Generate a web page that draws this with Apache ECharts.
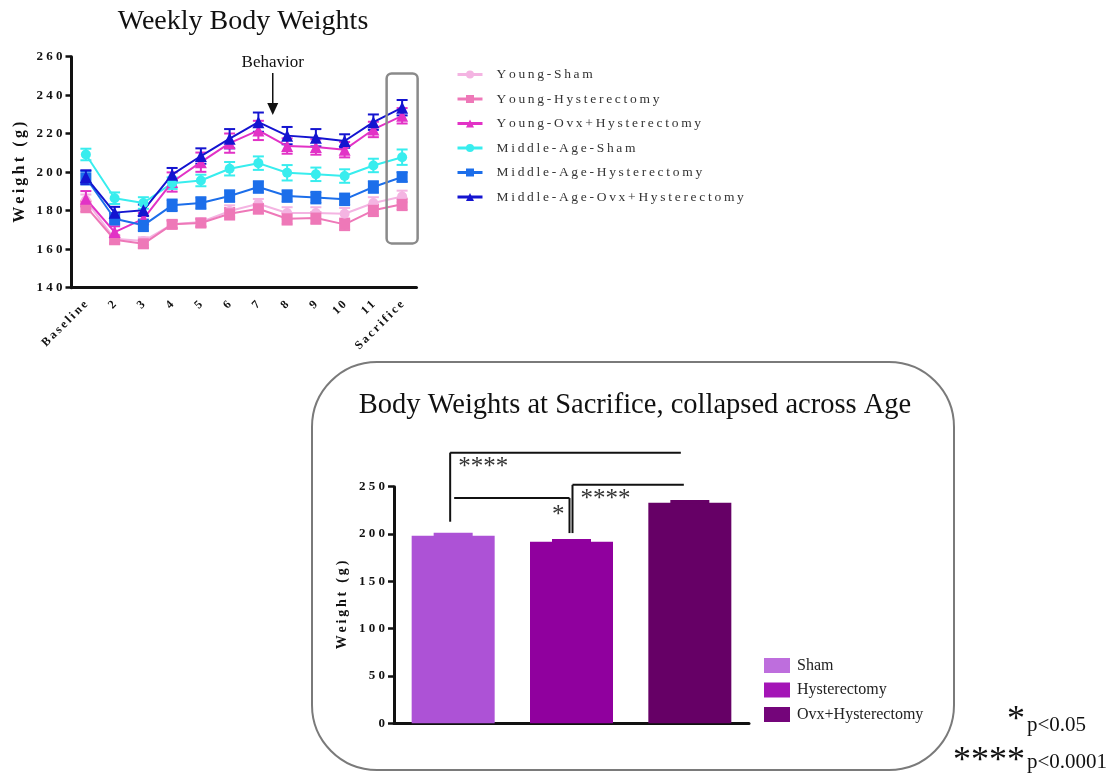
<!DOCTYPE html>
<html>
<head>
<meta charset="utf-8">
<title>Body Weights</title>
<script src="https://cdn.jsdelivr.net/npm/echarts@6/dist/echarts.min.js"></script>
<style>
  html, body { margin: 0; padding: 0; background: #ffffff; }
  #chart { width: 1117px; height: 773px; }
</style>
</head>
<body>
<div id="chart"></div>
<script>
// ---- Weekly body weights (mean and SEM, grams) ----
const weeks = ['Baseline', '2', '3', '4', '5', '6', '7', '8', '9', '10', '11', 'Sacrifice'];
const weightTicks = [140, 160, 180, 200, 220, 240, 260];

const groupNames = ['Young-Sham', 'Young-Hysterectomy', 'Young-Ovx+Hysterectomy',
                    'Middle-Age-Sham', 'Middle-Age-Hysterectomy', 'Middle-Age-Ovx+Hysterectomy'];

const youngSham     = [185.4, 165.4, 164.2, 172.9, 174.1, 179.8, 183.6, 178.8, 178.8, 178.4, 184.0, 187.4];
const youngHyst     = [182.2, 164.9, 162.8, 172.9, 173.6, 178.4, 181.0, 175.8, 176.2, 172.9, 180.2, 183.3];
const youngOvxHyst  = [186.2, 168.9, 175.8, 194.9, 205.2, 215.1, 221.7, 213.6, 213.1, 211.7, 222.2, 229.3];
const middleSham    = [209.2, 186.5, 184.0, 194.3, 195.7, 201.8, 204.7, 199.7, 198.9, 198.0, 203.5, 207.8];
const middleHyst    = [197.1, 175.8, 172.4, 182.8, 184.0, 187.6, 192.3, 187.6, 186.8, 185.9, 192.3, 197.5];
const middleOvxHyst = [197.5, 179.0, 180.2, 198.7, 208.4, 217.4, 226.0, 219.0, 217.9, 216.2, 226.0, 233.5];

const youngShamErr     = [3.0, 2.0, 2.0, 2.0, 2.0, 3.0, 2.5, 3.0, 3.0, 3.0, 3.0, 3.0];
const youngHystErr     = [3.0, 2.0, 2.0, 2.0, 2.0, 3.0, 2.5, 3.0, 3.0, 3.0, 3.0, 3.0];
const youngOvxHystErr  = [4.0, 3.0, 3.0, 5.0, 5.0, 5.0, 5.0, 4.0, 4.0, 4.0, 4.0, 4.0];
const middleShamErr    = [3.0, 3.0, 3.0, 3.0, 3.0, 3.5, 3.5, 4.0, 3.5, 3.5, 3.5, 4.0];
const middleHystErr    = [3.5, 3.0, 3.0, 3.0, 3.0, 3.0, 3.0, 3.0, 3.0, 3.0, 3.0, 2.5];
const middleOvxHystErr = [3.5, 3.0, 3.0, 3.5, 4.0, 5.0, 5.0, 4.5, 4.5, 3.5, 4.0, 4.0];

// ---- Body weights at sacrifice, collapsed across age ----
const treatments = ['Sham', 'Hysterectomy', 'Ovx+Hysterectomy'];
const sacrificeWeight = [198.2, 191.8, 233.0];
const sacrificeErr = [3.2, 2.9, 2.9];
const sacrificeTicks = [0, 50, 100, 150, 200, 250];

// Pairwise comparisons (category indices, bracket height and drop in grams)
const pairFrom  = [0, 0, 1];
const pairTo    = [2, 1, 2];
const pairLevel = [286, 238, 252];
const pairDrop  = [213, 201, 201];
const pairSide  = ['from', 'to', 'from'];
const pairStars = ['****', '*', '****'];

// ---- styling ----
const SERIF = "'Liberation Serif', 'Times New Roman', serif";
const groupColors = ['#F4B4E2', '#EE78B8', '#E232C6', '#38EDEE', '#1C6EEA', '#1414D0'];
const groupSymbols = ['circle', 'rect', 'triangle', 'circle', 'rect', 'triangle'];
const groupSymbolSize = [10, 11, 12, 10, 11, 12];
const barColors = ['#AD52D6', '#90009E', '#660066'];
const barLegendColors = ['#BE6EDD', '#A414B6', '#74057A'];

// letter-spaced text, as in the axis and legend typography
const spaced = s => String(s).split('').join('\u2009');
const spacedWide = s => String(s).split('').join('\u2005');

const groupMeans = [youngSham, youngHyst, youngOvxHyst, middleSham, middleHyst, middleOvxHyst];
const groupErrs  = [youngShamErr, youngHystErr, youngOvxHystErr, middleShamErr, middleHystErr, middleOvxHystErr];

function errorBarRenderer(color) {
  return function (params, api) {
    const i = api.value(0), m = api.value(1), e = api.value(2);
    const top = api.coord([i, m + e]);
    const bot = api.coord([i, m - e]);
    const cx = top[0], w = 5.5;
    const st = { stroke: color, lineWidth: 2 };
    return {
      type: 'group',
      children: [
        { type: 'line', shape: { x1: cx, y1: top[1], x2: cx, y2: bot[1] }, style: st },
        { type: 'line', shape: { x1: cx - w, y1: top[1], x2: cx + w, y2: top[1] }, style: st },
        { type: 'line', shape: { x1: cx - w, y1: bot[1], x2: cx + w, y2: bot[1] }, style: st }
      ]
    };
  };
}

const series = [];
groupNames.forEach((name, g) => {
  series.push({
    type: 'custom',
    name: name + ' SEM',
    xAxisIndex: 0, yAxisIndex: 0,
    renderItem: errorBarRenderer(groupColors[g]),
    encode: { x: 0, y: 1 },
    data: weeks.map((w, i) => [i, groupMeans[g][i], groupErrs[g][i]]),
    silent: true,
    z: 2
  });
  series.push({
    type: 'line',
    name: name,
    xAxisIndex: 0, yAxisIndex: 0,
    data: groupMeans[g],
    symbol: groupSymbols[g],
    symbolSize: groupSymbolSize[g],
    showAllSymbol: true,
    lineStyle: { color: groupColors[g], width: 2 },
    itemStyle: { color: groupColors[g] },
    emphasis: { disabled: true },
    z: 3
  });
});

treatments.forEach((name, k) => {
  series.push({
    type: 'bar',
    name: name,
    xAxisIndex: 1, yAxisIndex: 1,
    data: sacrificeWeight.map((v, j) => (j === k ? v : '-')),
    barWidth: 83,
    barGap: '-100%',
    itemStyle: { color: barColors[k] },
    emphasis: { disabled: true }
  });
});

// SEM caps on the bars, drawn in the bar colour
series.push({
  type: 'custom',
  name: 'Sacrifice SEM',
  xAxisIndex: 1, yAxisIndex: 1,
  encode: { x: 0, y: 1 },
  data: treatments.map((t, k) => [k, sacrificeWeight[k], sacrificeErr[k]]),
  renderItem: function (params, api) {
    const k = api.value(0), m = api.value(1), e = api.value(2);
    const p0 = api.coord([k, m]);
    const p1 = api.coord([k, m + e]);
    const w = 39;
    return {
      type: 'rect',
      shape: { x: p0[0] - w / 2, y: p1[1], width: w, height: p0[1] - p1[1] + 1 },
      style: { fill: barColors[k] }
    };
  },
  silent: true,
  z: 3
});

// significance brackets
series.push({
  type: 'custom',
  name: 'Comparisons',
  xAxisIndex: 1, yAxisIndex: 1,
  data: pairFrom.map((f, n) => [f, pairTo[n], pairLevel[n], pairDrop[n], n]),
  encode: { x: [0, 1], y: [2, 3] },
  clip: false,
  renderItem: function (params, api) {
    const n = api.value(4);
    const f = api.value(0), t = api.value(1), lvl = api.value(2), drop = api.value(3);
    const side = pairSide[n];
    const a = api.coord([f, lvl]);
    const b = api.coord([t, lvl]);
    const d = api.coord([f, drop]);
    let x1 = a[0], x2 = b[0];
    if (side === 'from') { x1 += (f === 0 ? -3 : 1); x2 -= (t - f > 1 ? 9 : 6); }
    else { x1 += 1; x2 -= 2; }
    const y = a[1];
    const yd = d[1];
    const st = { stroke: '#111', lineWidth: 2 };
    const dropX = side === 'from' ? x1 : x2;
    const lab = side === 'from'
      ? { x: x1 + 8, y: y + 15, align: 'left' }
      : { x: x2 - 5, y: y + 17, align: 'right' };
    return {
      type: 'group',
      children: [
        { type: 'line', shape: { x1: x1, y1: y, x2: x2, y2: y }, style: st },
        { type: 'line', shape: { x1: dropX, y1: y, x2: dropX, y2: yd }, style: st },
        { type: 'text', x: lab.x, y: lab.y,
          style: { text: pairStars[n], fill: '#333', font: '25px ' + SERIF,
                   align: lab.align, verticalAlign: 'middle' } }
      ]
    };
  },
  silent: true,
  z: 4
});

const axisLabelStyle = { fontFamily: SERIF, fontWeight: 'bold', fontSize: 13, color: '#111' };

const option = {
  animation: false,
  backgroundColor: '#ffffff',
  grid: [
    { left: 71.5, top: 56.7, width: 345, height: 231, containLabel: false },
    { left: 394, top: 486.7, width: 355, height: 236.6, containLabel: false }
  ],
  xAxis: [
    {
      type: 'category', gridIndex: 0, data: weeks, boundaryGap: true,
      axisLine: { lineStyle: { color: '#111', width: 3 } },
      axisTick: { alignWithLabel: true, length: 6, lineStyle: { color: '#111', width: 2.5 } },
      axisLabel: { ...axisLabelStyle, fontSize: 12, rotate: 45, margin: 15, interval: 0,
                   formatter: v => spaced(v) },
      splitLine: { show: false }
    },
    {
      type: 'category', gridIndex: 1, data: treatments, boundaryGap: true,
      axisLine: { lineStyle: { color: '#111', width: 3 } },
      axisTick: { show: false },
      axisLabel: { show: false },
      splitLine: { show: false }
    }
  ],
  yAxis: [
    {
      type: 'value', gridIndex: 0,
      min: weightTicks[0], max: weightTicks[weightTicks.length - 1], interval: 20,
      axisLine: { show: true, lineStyle: { color: '#111', width: 3 } },
      axisTick: { show: true, length: 6, lineStyle: { color: '#111', width: 2.5 } },
      axisLabel: { ...axisLabelStyle, margin: 9, formatter: v => spacedWide(v) },
      splitLine: { show: false },
      name: spaced('Weight (g)'), nameLocation: 'middle', nameRotate: 90, nameGap: 44,
      nameTextStyle: { fontFamily: SERIF, fontWeight: 'bold', fontSize: 16, color: '#111' }
    },
    {
      type: 'value', gridIndex: 1,
      min: sacrificeTicks[0], max: sacrificeTicks[sacrificeTicks.length - 1], interval: 50,
      axisLine: { show: true, lineStyle: { color: '#111', width: 3 } },
      axisTick: { show: true, length: 6, lineStyle: { color: '#111', width: 2.5 } },
      axisLabel: { ...axisLabelStyle, margin: 9, formatter: v => spacedWide(v) },
      splitLine: { show: false },
      name: spaced('Weight (g)'), nameLocation: 'middle', nameRotate: 90, nameGap: 45,
      nameTextStyle: { fontFamily: SERIF, fontWeight: 'bold', fontSize: 14, color: '#111' }
    }
  ],
  legend: [
    {
      data: groupNames, orient: 'vertical', left: 456, top: 67.5, padding: 0,
      itemWidth: 25, itemHeight: 10, itemGap: 10.5, selectedMode: false,
      lineStyle: { width: 3 },
      formatter: name => spaced(name),
      textStyle: { fontFamily: SERIF, fontSize: 13.5, color: '#333', lineHeight: 14, padding: [0, 0, 0, 9] }
    },
    {
      data: treatments.map((t, k) => ({ name: t, icon: 'rect', itemStyle: { color: barLegendColors[k] } })),
      orient: 'vertical', left: 764, top: 657.5, padding: 0,
      itemWidth: 26, itemHeight: 15, itemGap: 8.5, selectedMode: false,
      textStyle: { fontFamily: SERIF, fontSize: 16, color: '#222', lineHeight: 16, padding: [0, 0, 0, 2] }
    }
  ],
  series: series
};

const chart = echarts.init(document.getElementById('chart'), null, { renderer: 'canvas' });
chart.setOption(option);

// annotations placed from the axis positions
const px = (cat, val) => chart.convertToPixel({ xAxisIndex: 0, yAxisIndex: 0 }, [cat, val]);
const behaviorX = (px(6, 200)[0] + px(7, 200)[0]) / 2;
const sacX = px(11, 200)[0];
const boxTop = px(11, 251.3)[1];
const boxBottom = px(11, 163)[1];

chart.setOption({
  graphic: [
    { type: 'text', x: 243, y: 22,
      style: { text: 'Weekly Body Weights', font: '28px ' + SERIF, fill: '#111',
               align: 'center', verticalAlign: 'middle' } },
    { type: 'text', x: behaviorX, y: 63,
      style: { text: 'Behavior', font: '17px ' + SERIF, fill: '#111',
               align: 'center', verticalAlign: 'middle' } },
    { type: 'line', shape: { x1: behaviorX, y1: 73, x2: behaviorX, y2: 105 },
      style: { stroke: '#111', lineWidth: 1.5 } },
    { type: 'polygon', shape: { points: [[behaviorX - 5.5, 103], [behaviorX + 5.5, 103], [behaviorX, 115]] },
      style: { fill: '#111' } },
    { type: 'rect', shape: { x: sacX - 15.5, y: boxTop, width: 31, height: boxBottom - boxTop, r: 5 },
      style: { fill: 'none', stroke: '#8a8a8a', lineWidth: 2.5 }, z: 10 },
    { type: 'rect', shape: { x: 312, y: 362, width: 642, height: 408, r: 65 },
      style: { fill: 'none', stroke: '#7a7a7a', lineWidth: 2 }, z: -1 },
    { type: 'text', x: 635, y: 406,
      style: { text: 'Body Weights at Sacrifice, collapsed across Age', font: '28.5px ' + SERIF,
               fill: '#111', align: 'center', verticalAlign: 'middle' } },
    { type: 'text', x: 1025, y: 721,
      style: { text: '*', font: '36px ' + SERIF, fill: '#111', align: 'right', verticalAlign: 'middle' } },
    { type: 'text', x: 1027, y: 725,
      style: { text: 'p<0.05', font: '21px ' + SERIF, fill: '#111', align: 'left', verticalAlign: 'middle' } },
    { type: 'text', x: 1025, y: 762,
      style: { text: '****', font: '36px ' + SERIF, fill: '#111', align: 'right', verticalAlign: 'middle' } },
    { type: 'text', x: 1027, y: 762,
      style: { text: 'p<0.0001', font: '21px ' + SERIF, fill: '#111', align: 'left', verticalAlign: 'middle' } }
  ]
});
</script>
</body>
</html>
